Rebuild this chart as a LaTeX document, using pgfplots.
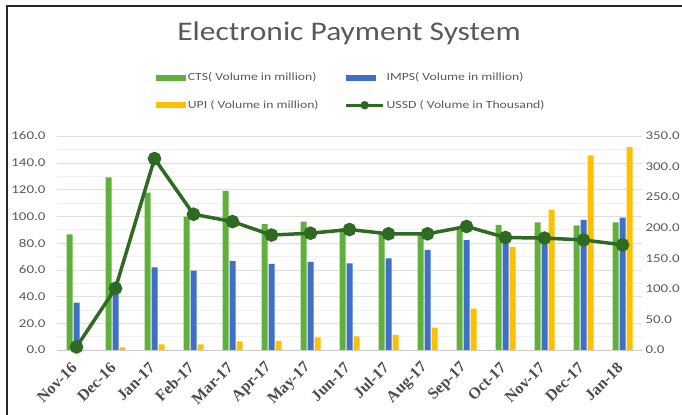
\documentclass[border=0pt]{standalone}
\usepackage{pgfplots}
\pgfplotsset{compat=1.18}
\usepackage{fontspec}
\setmainfont{Carlito}
\newfontfamily\widefont[FakeStretch=1.25]{Carlito}
\newfontfamily\titlefont[FakeStretch=1.17]{Carlito}
\newfontfamily\xfont{Liberation Serif}

\definecolor{ctsgreen}{HTML}{62B03C}
\definecolor{impsblue}{HTML}{3F6FC8}
\definecolor{upiyellow}{HTML}{FFC000}
\definecolor{ussdgreen}{HTML}{2F6A22}
\definecolor{txtgray}{HTML}{595959}

\begin{document}
\begin{tikzpicture}
\path[use as bounding box] (0bp,0bp) rectangle (682bp,415bp);
\draw[line width=1.6bp, black!85] (7bp,0bp) -- (7bp,409bp) -- (682bp,409bp);
\node[font=\titlefont\fontsize{27}{30}\selectfont, text=txtgray] at (349bp,382bp) {Electronic Payment System};

% left axis: volumes in million
\begin{axis}[
    at={(57bp,65bp)}, anchor=south west,
    scale only axis, width=585bp, height=214bp,
    xmin=-0.5, xmax=14.5,
    ymin=0, ymax=160,
    xtick={0,...,14},
    xticklabels={Nov-16,Dec-16,Jan-17,Feb-17,Mar-17,Apr-17,May-17,Jun-17,Jul-17,Aug-17,Sep-17,Oct-17,Nov-17,Dec-17,Jan-18},
    xticklabel shift=13bp,
    xticklabel style={rotate=45, anchor=east, text=black!70,
        font=\xfont\bfseries\fontsize{16}{16}\selectfont},
    ytick={0,20,...,160},
    yticklabel style={xshift=-8bp, text=txtgray, font=\widefont\fontsize{12}{12}\selectfont},
    /pgf/number format/.cd, fixed, fixed zerofill, precision=1, assume math mode=true,
    /pgfplots/.cd,
    minor y tick num=1,
    ymajorgrids, yminorgrids,
    major grid style={gray!25},
    minor grid style={gray!12},
    axis x line*=bottom, axis y line*=left,
    x axis line style={gray!40},
    y axis line style={draw=none},
    major tick length=0pt, minor tick length=0pt,
    legend columns=2,
    legend cell align=left,
    legend style={draw=none, fill=none, at={(0.503,1.208)}, anchor=center,
        font=\widefont\fontsize{11}{11}\selectfont, text=txtgray, row sep=14bp,
        /tikz/every even column/.append style={column sep=24bp}},
]
\addplot[ybar, bar width=6bp, bar shift=-7bp, fill=ctsgreen, draw=none,
    legend image code/.code={\fill[ctsgreen] (0bp,-3bp) rectangle (30bp,3bp);}]
  coordinates {(0,86.5) (1,129) (2,117.6) (3,99.7) (4,118.9) (5,94.2) (6,96) (7,91) (8,88) (9,87) (10,90) (11,93.5) (12,95.4) (13,93.2) (14,95.4)};
\addlegendentry{CTS( Volume in million)}
\addplot[ybar, bar width=6bp, bar shift=0bp, fill=impsblue, draw=none,
    legend image code/.code={\fill[impsblue] (0bp,-3bp) rectangle (30bp,3bp);}]
  coordinates {(0,35.4) (1,45) (2,61.8) (3,59.3) (4,66.5) (5,64.3) (6,65.8) (7,64.8) (8,68.5) (9,74.8) (10,82.2) (11,86) (12,87) (13,97.2) (14,98.9)};
\addlegendentry{IMPS( Volume in million)}
\addplot[ybar, bar width=6bp, bar shift=7bp, fill=upiyellow, draw=none,
    legend image code/.code={\fill[upiyellow] (0bp,-3bp) rectangle (30bp,3bp);}]
  coordinates {(0,0.3) (1,2) (2,4.2) (3,4.2) (4,6.4) (5,6.9) (6,9.4) (7,10.2) (8,11.4) (9,16.8) (10,30.9) (11,77) (12,105) (13,145.6) (14,151.7)};
\addlegendentry{UPI ( Volume in million)}
\addlegendimage{legend image code/.code={\draw[ussdgreen, line width=3bp] (0bp,0bp) -- (37bp,0bp); \fill[ussdgreen] (18.5bp,0bp) circle (4bp);}}
\addlegendentry{USSD ( Volume in Thousand)}
\end{axis}

% right axis: USSD in thousand
\begin{axis}[
    at={(57bp,65bp)}, anchor=south west,
    scale only axis, width=585bp, height=214bp,
    xmin=-0.5, xmax=14.5,
    ymin=0, ymax=350,
    axis x line=none,
    axis y line*=right,
    y axis line style={draw=none},
    major tick length=0pt,
    ytick={0,50,...,350},
    yticklabel style={text=txtgray, font=\widefont\fontsize{12}{12}\selectfont},
    /pgf/number format/.cd, fixed, fixed zerofill, precision=1, assume math mode=true,
]
\addplot[ussdgreen, line width=3.5bp, mark=*, mark size=5bp, mark options={fill=ussdgreen}]
  coordinates {(0,5) (1,101) (2,313) (3,222) (4,210) (5,188) (6,191) (7,197) (8,190) (9,190) (10,202) (11,184) (12,183) (13,180) (14,172)};
\end{axis}
\end{tikzpicture}
\end{document}
